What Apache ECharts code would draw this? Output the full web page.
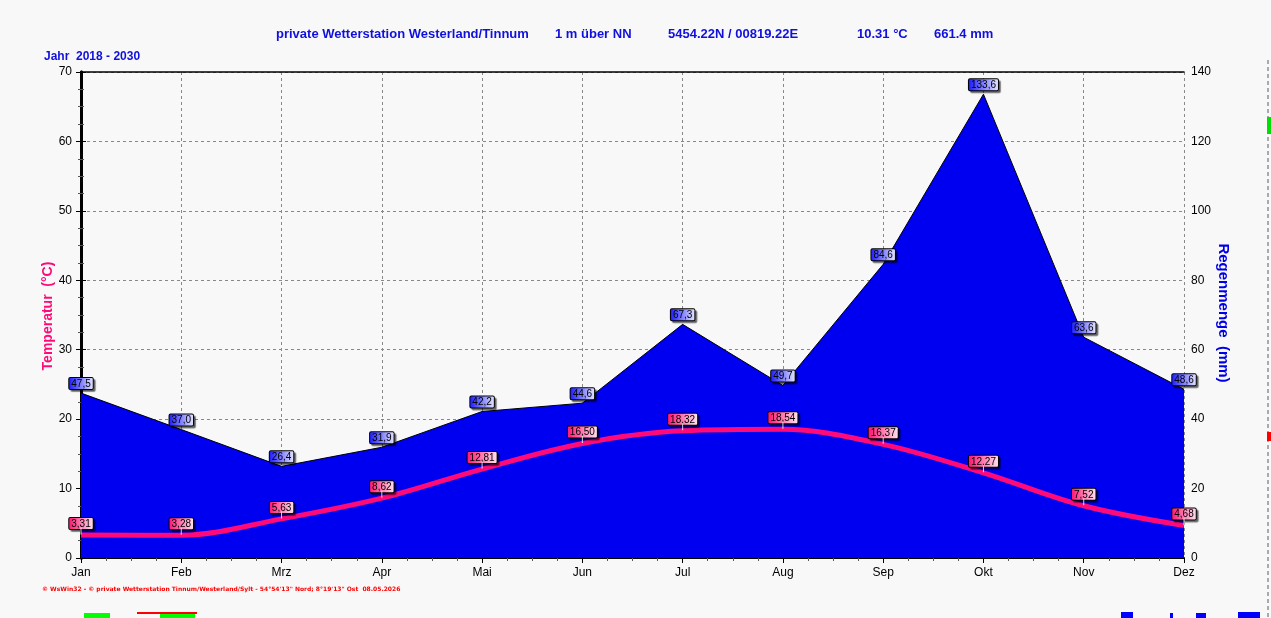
<!doctype html>
<html>
<head>
<meta charset="UTF-8">
<title>Wetterstation Westerland/Tinnum</title>
<style>
  html, body { margin: 0; padding: 0; background: #f8f8f8; }
  #chart { width: 1271px; height: 618px; }
</style>
</head>
<body>
<div id="chart"></div>
<script src="https://cdn.jsdelivr.net/npm/echarts@6/dist/echarts.min.js"></script>
<script>
// Monatswerte 2018 - 2030
var months = ['Jan', 'Feb', 'Mrz', 'Apr', 'Mai', 'Jun', 'Jul', 'Aug', 'Sep', 'Okt', 'Nov', 'Dez'];
var rain = [47.5, 37.0, 26.4, 31.9, 42.2, 44.6, 67.3, 49.7, 84.6, 133.6, 63.6, 48.6];
var temp = [3.31, 3.28, 5.63, 8.62, 12.81, 16.50, 18.32, 18.54, 16.37, 12.27, 7.52, 4.68];
var tempTicks = [0, 10, 20, 30, 40, 50, 60, 70];
var rainTicks = [0, 20, 40, 60, 80, 100, 120, 140];

var PINK = '#ff0a78';
var BLUE = '#0000f0';
var TXT = '#1010dd';

function comma(v, d) {
  return v.toFixed(d).replace('.', ',');
}

var rainData = rain.map(function(v, i) { return [i, v]; });
var tempData = temp.map(function(v, i) { return [i, v]; });

var labelBox = {
  show: true,
  position: 'top',
  color: '#000',
  fontSize: 10,
  lineHeight: 10,
  fontFamily: 'Liberation Sans, Arial, sans-serif',
  borderColor: '#000',
  borderWidth: 1,
  borderRadius: 1,
  padding: [1, 2, 0, 2],
  shadowColor: 'rgba(0,0,0,0.45)',
  shadowOffsetX: 2,
  shadowOffsetY: 2,
  shadowBlur: 1
};

var chart = echarts.init(document.getElementById('chart'));
var option = {
  backgroundColor: '#f8f8f8',
  animation: false,
  grid: { left: 81, right: 87, top: 72, bottom: 60 },
  xAxis: [{
    type: 'value',
    min: 0,
    max: months.length - 1,
    interval: 1,
    axisLine: { show: true, lineStyle: { color: '#000', width: 2 } },
    axisTick: { show: true, length: 5, lineStyle: { color: '#000' } },
    minorTick: { show: true, splitNumber: 4, length: 3, lineStyle: { color: '#555' } },
    axisLabel: {
      color: '#000', fontSize: 12, margin: 9,
      fontFamily: 'Liberation Sans, Arial, sans-serif',
      formatter: function(v) { return months[v] || ''; }
    },
    splitLine: { show: true, lineStyle: { color: '#888', type: [3, 3], width: 1 } }
  }, {
    type: 'value',
    position: 'top',
    min: 0,
    max: months.length - 1,
    axisLine: { show: true, onZero: false, lineStyle: { color: '#000', width: 1.5 } },
    axisTick: { show: false },
    axisLabel: { show: false },
    splitLine: { show: false }
  }],
  yAxis: [{
    type: 'value',
    min: tempTicks[0],
    max: tempTicks[tempTicks.length - 1],
    interval: 10,
    offset: 3,
    axisLine: { show: true, lineStyle: { color: '#000', width: 3 } },
    axisTick: { show: true, length: 5, lineStyle: { color: '#000' } },
    minorTick: { show: true, splitNumber: 4, length: 3, lineStyle: { color: '#555' } },
    axisLabel: { color: '#000', fontSize: 12, margin: 6, fontFamily: 'Liberation Sans, Arial, sans-serif' },
    splitLine: { show: true, lineStyle: { color: '#888', type: [3, 3], width: 1 } }
  }, {
    type: 'value',
    min: rainTicks[0],
    max: rainTicks[rainTicks.length - 1],
    interval: 20,
    offset: 3,
    position: 'right',
    axisLine: { show: true, lineStyle: { color: '#000', width: 3 } },
    axisTick: { show: true, length: 5, lineStyle: { color: '#000' } },
    minorTick: { show: true, splitNumber: 4, length: 3, lineStyle: { color: '#555' } },
    axisLabel: { color: '#000', fontSize: 12, margin: 4, fontFamily: 'Liberation Sans, Arial, sans-serif' },
    splitLine: { show: false }
  }],
  series: [{
    name: 'Regenmenge',
    type: 'line',
    yAxisIndex: 1,
    data: rainData,
    symbol: 'circle',
    symbolSize: 0,
    lineStyle: { color: '#000', width: 1 },
    itemStyle: { color: BLUE },
    areaStyle: { color: BLUE, opacity: 1 },
    z: 2,
    label: Object.assign({}, labelBox, {
      distance: 4,
      formatter: function(p) { return comma(p.value[1], 1); },
      backgroundColor: new echarts.graphic.LinearGradient(0, 0, 1, 0, [
        { offset: 0, color: '#1818ff' },
        { offset: 1, color: '#e8e8ff' }
      ])
    })
  }, {
    name: 'Temperatur-Marke',
    type: 'scatter',
    yAxisIndex: 0,
    data: tempData,
    symbol: 'rect',
    symbolSize: [1, 7],
    symbolOffset: [0, -4],
    itemStyle: { color: '#fff' },
    z: 4,
    silent: true
  }, {
    name: 'Temperatur',
    type: 'line',
    yAxisIndex: 0,
    data: tempData,
    smooth: 0.35,
    symbol: 'circle',
    symbolSize: 0,
    lineStyle: { color: PINK, width: 5 },
    itemStyle: { color: PINK },
    z: 3,
    label: Object.assign({}, labelBox, {
      distance: 6,
      formatter: function(p) { return comma(p.value[1], 2); },
      backgroundColor: new echarts.graphic.LinearGradient(0, 0, 1, 0, [
        { offset: 0, color: '#ff1070' },
        { offset: 1, color: '#ffe6f2' }
      ])
    })
  }],
  graphic: [
    { type: 'text', left: 276, top: 28, style: { text: 'private Wetterstation Westerland/Tinnum', fill: TXT, font: 'bold 13px "Liberation Sans Narrow", "Arial Narrow", sans-serif' } },
    { type: 'text', left: 555, top: 28, style: { text: '1 m über NN', fill: TXT, font: 'bold 13px "Liberation Sans Narrow", "Arial Narrow", sans-serif' } },
    { type: 'text', left: 668, top: 28, style: { text: '5454.22N / 00819.22E', fill: TXT, font: 'bold 13px "Liberation Sans Narrow", "Arial Narrow", sans-serif' } },
    { type: 'text', left: 857, top: 28, style: { text: '10.31 °C', fill: TXT, font: 'bold 13px "Liberation Sans Narrow", "Arial Narrow", sans-serif' } },
    { type: 'text', left: 934, top: 28, style: { text: '661.4 mm', fill: TXT, font: 'bold 13px "Liberation Sans Narrow", "Arial Narrow", sans-serif' } },
    { type: 'text', left: 44, top: 51, style: { text: 'Jahr  2018 - 2030', fill: TXT, font: 'bold 12px "Liberation Sans Narrow", "Arial Narrow", sans-serif' } },
    { type: 'text', x: 48, y: 316, rotation: Math.PI / 2, style: { text: 'Temperatur  (°C)', fill: PINK, font: 'bold 14px "Liberation Sans", Arial, sans-serif', align: 'center', verticalAlign: 'middle' } },
    { type: 'text', x: 1223, y: 313, rotation: -Math.PI / 2, style: { text: 'Regenmenge  (mm)', fill: '#0000e8', font: 'bold 15px "Liberation Sans", Arial, sans-serif', align: 'center', verticalAlign: 'middle' } },
    { type: 'text', left: 42, top: 586, style: { text: '© WsWin32 - © private Wetterstation Tinnum/Westerland/Sylt - 54°54\'13" Nord; 8°19\'13" Ost  08.05.2026', fill: '#ff0000', font: 'bold 6px "DejaVu Sans", sans-serif' } },
    { type: 'line', shape: { x1: 1268, y1: 60, x2: 1268, y2: 618 }, style: { stroke: '#aaa', lineWidth: 2, lineDash: [4, 3] } },
    { type: 'rect', shape: { x: 1267, y: 117, width: 4, height: 17 }, style: { fill: '#00e000' } },
    { type: 'rect', shape: { x: 1267, y: 432, width: 4, height: 9 }, style: { fill: '#ff0000' } },
    { type: 'rect', shape: { x: 84, y: 613, width: 26, height: 5 }, style: { fill: '#00ff00' } },
    { type: 'rect', shape: { x: 137, y: 612, width: 60, height: 2 }, style: { fill: '#ff0000' } },
    { type: 'rect', shape: { x: 160, y: 614, width: 35, height: 4 }, style: { fill: '#00ff00' } },
    { type: 'rect', shape: { x: 1121, y: 612, width: 12, height: 6 }, style: { fill: '#0000ff' } },
    { type: 'rect', shape: { x: 1170, y: 613, width: 3, height: 5 }, style: { fill: '#0000ff' } },
    { type: 'rect', shape: { x: 1196, y: 613, width: 10, height: 5 }, style: { fill: '#0000ff' } },
    { type: 'rect', shape: { x: 1238, y: 612, width: 22, height: 6 }, style: { fill: '#0000ff' } }
  ]
};
chart.setOption(option);
</script>
</body>
</html>
